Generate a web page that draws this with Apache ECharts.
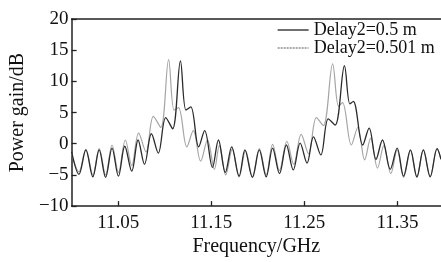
<!DOCTYPE html>
<html><head><meta charset="utf-8">
<script src="https://cdn.jsdelivr.net/npm/echarts@6/dist/echarts.min.js"></script>
<style>html,body{margin:0;padding:0;background:#fff}#c{width:441px;height:262px}</style>
</head><body><div id="c"></div>
<script>
const seriesNames = ['Delay2=0.5 m', 'Delay2=0.501 m'];
const xTickValues = [11.05, 11.15, 11.25, 11.35];
const yTickValues = [20, 15, 10, 5, 0, -5, -10];

const freqA = [11.0000,11.0079,11.0153,11.0228,11.0296,11.0365,11.0434,11.0503,11.0571,11.0646,
  11.0714,11.0783,11.0857,11.0931,11.1011,11.1085,11.1169,11.1228,11.1280,11.1365,
  11.1429,11.1513,11.1577,11.1651,11.1720,11.1799,11.1862,11.1942,11.2016,11.2090,
  11.2159,11.2233,11.2307,11.2381,11.2455,11.2529,11.2598,11.2677,11.2757,11.2831,
  11.2931,11.2989,11.3026,11.3127,11.3196,11.3270,11.3339,11.3423,11.3497,11.3566,
  11.3640,11.3709,11.3778,11.3852,11.3926,11.3968];
const gainA = [-1.3,-4.9,-1.0,-5.3,-1.0,-5.4,-0.7,-5.2,-0.4,-4.4,
  0.6,-3.3,1.6,-1.5,4.2,2.4,13.3,5.4,5.9,-0.5,
  2.1,-3.8,0.6,-4.6,-0.5,-5.2,-1.0,-5.4,-1.0,-5.3,
  -0.7,-4.8,-0.2,-4.2,0.1,-3.1,1.1,-1.8,4.0,3.0,
  12.5,6.4,6.8,-0.2,2.5,-2.5,0.6,-4.1,-0.7,-5.2,
  -1.0,-5.3,-1.0,-5.3,-0.8,-2.5];

const freqB = [11.0000,11.0079,11.0153,11.0228,11.0296,11.0365,11.0434,11.0503,11.0577,11.0646,
  11.0720,11.0799,11.0878,11.0958,11.1042,11.1101,11.1148,11.1238,11.1307,11.1386,
  11.1460,11.1534,11.1587,11.1656,11.1725,11.1799,11.1868,11.1942,11.2016,11.2090,
  11.2159,11.2233,11.2312,11.2386,11.2466,11.2545,11.2630,11.2704,11.2804,11.2868,
  11.2910,11.3005,11.3074,11.3148,11.3212,11.3286,11.3354,11.3429,11.3497,11.3566,
  11.3640,11.3709,11.3778,11.3852,11.3926,11.3968];
const gainB = [-1.5,-4.5,-0.9,-5.0,-0.8,-5.0,-0.2,-4.6,0.6,-3.5,
  1.7,-1.3,4.4,2.6,13.5,5.4,5.8,-0.5,2.1,-2.8,
  0.6,-4.1,-0.3,-5.0,-0.9,-5.3,-1.1,-5.3,-0.8,-5.0,
  -0.1,-4.3,0.4,-3.3,1.5,-1.6,4.2,2.9,12.8,6.0,
  6.6,-0.2,2.6,-2.6,0.9,-3.9,-0.3,-4.8,-1.0,-5.4,
  -1.1,-5.4,-1.0,-5.3,-0.8,-2.5];

const pairs = (xs, ys) => xs.map((x, i) => [x, ys[i]]);
const FONT = 'Liberation Serif';
const chart = echarts.init(document.getElementById('c'), null, {renderer: 'canvas'});
chart.setOption({
  animation: false,
  backgroundColor: '#fff',
  grid: {left: 66, top: 19, right: 0, bottom: 51},
  legend: {
    orient: 'vertical', left: 272, top: 16, itemGap: 0, itemWidth: 31, itemHeight: 14,
    textStyle: {fontFamily: FONT, fontSize: 18, color: '#111'},
    data: [
      {name: seriesNames[0], itemStyle: {opacity: 0, borderWidth: 0}, lineStyle: {color: '#222', width: 1.3, type: 'solid'}},
      {name: seriesNames[1], itemStyle: {opacity: 0, borderWidth: 0}, lineStyle: {color: '#555', width: 1.2, type: [2, 1]}}
    ]
  },
  xAxis: [{
    type: 'value', min: 11.0, max: 11.3968, position: 'bottom',
    axisLine: {show: true, onZero: false, lineStyle: {color: '#222', width: 1.5}},
    axisTick: {show: true, inside: true, length: 5, customValues: xTickValues, lineStyle: {color: '#222', width: 1.3}},
    axisLabel: {customValues: xTickValues, margin: 7, fontFamily: FONT, fontSize: 19, color: '#111',
      formatter: v => v.toFixed(2)},
    splitLine: {show: false},
    name: 'Frequency/GHz', nameLocation: 'middle', nameGap: 30,
    nameTextStyle: {fontFamily: FONT, fontSize: 20, color: '#111'}
  }, {
    type: 'value', min: 11.0, max: 11.3968, position: 'top',
    axisLine: {show: true, onZero: false, lineStyle: {color: '#222', width: 1.5}},
    axisTick: {show: false}, axisLabel: {show: false}, splitLine: {show: false}
  }],
  yAxis: {
    type: 'value', min: -10, max: 20, interval: 5,
    axisLine: {show: true, onZero: false, lineStyle: {color: '#222', width: 1.5}},
    axisTick: {show: true, inside: true, length: 5, lineStyle: {color: '#222', width: 1.3}},
    axisLabel: {margin: 3, fontFamily: FONT, fontSize: 19, color: '#111',
      formatter: v => (v < 0 ? '\u2212' + Math.abs(v) : String(v))},
    splitLine: {show: false},
    name: 'Power gain/dB', nameLocation: 'middle', nameGap: 38, nameRotate: 90,
    nameTextStyle: {fontFamily: FONT, fontSize: 20, color: '#111'}
  },
  series: [{
    name: seriesNames[0], type: 'line', xAxisIndex: 0, data: pairs(freqA, gainA),
    symbol: 'none', smooth: 0.35, z: 3,
    itemStyle: {color: '#2a2a2a'},
    lineStyle: {color: '#2a2a2a', width: 1.3}
  }, {
    name: seriesNames[1], type: 'line', xAxisIndex: 0, data: pairs(freqB, gainB),
    symbol: 'none', smooth: 0.35, z: 2,
    itemStyle: {color: '#a5a5a5'},
    lineStyle: {color: '#a5a5a5', width: 1.2}
  }]
});
</script></body></html>
